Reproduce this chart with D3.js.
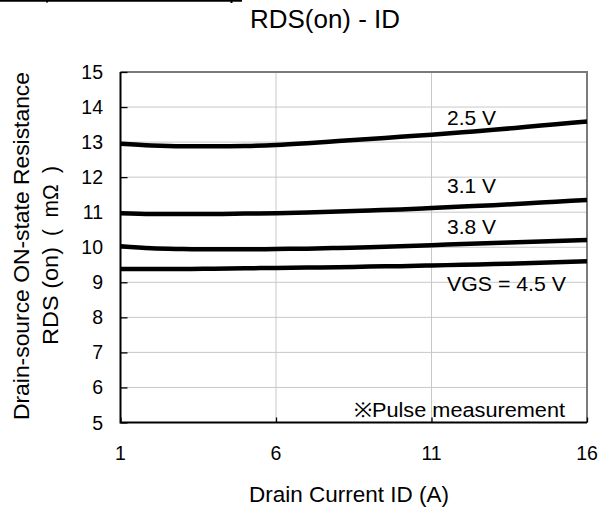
<!DOCTYPE html>
<html>
<head>
<meta charset="utf-8">
<script src="https://cdn.jsdelivr.net/npm/d3@7"></script>
<style>
  html, body { margin: 0; padding: 0; background: #fff; }
  svg { display: block; font-family: "Liberation Sans", Arial, Helvetica, sans-serif; }
  text { white-space: pre; }
</style>
</head>
<body>
<svg id="chart" width="608" height="513"></svg>
<script>
// ---- data ----
const currents = [1, 2, 3, 4, 5, 6, 7, 8, 9, 10, 11, 12, 13, 14, 15, 16];
const r_25 = [12.95, 12.9, 12.88, 12.88, 12.89, 12.92, 12.97, 13.03, 13.09, 13.15, 13.21, 13.28, 13.35, 13.43, 13.51, 13.59];
const r_31 = [10.97, 10.95, 10.95, 10.95, 10.96, 10.97, 10.99, 11.02, 11.05, 11.08, 11.12, 11.16, 11.2, 11.25, 11.3, 11.35];
const r_38 = [10.03, 9.97, 9.95, 9.94, 9.94, 9.95, 9.96, 9.98, 10.0, 10.03, 10.06, 10.09, 10.12, 10.15, 10.18, 10.21];
const r_45 = [9.38, 9.38, 9.38, 9.39, 9.4, 9.41, 9.42, 9.43, 9.45, 9.46, 9.48, 9.5, 9.52, 9.54, 9.57, 9.6];
const seriesNames = ["2.5 V", "3.1 V", "3.8 V", "VGS = 4.5 V"];
const xTicks = [1, 6, 11, 16];
const yTicks = [5, 6, 7, 8, 9, 10, 11, 12, 13, 14, 15];
const titleText = "RDS(on) - ID";
const xTitle = "Drain Current ID (A)";
const yTitle1 = "Drain-source ON-state Resistance";
const yTitle2a = "RDS (on)";
const yTitle2b = "(  mΩ  )";
const noteText = "※Pulse measurement";

// ---- layout ----
const svg = d3.select("#chart");
const L = 120.5, R = 587, T = 72, B = 422.5;
const x = d3.scaleLinear().domain([1, 16]).range([L, R]);
const y = d3.scaleLinear().domain([5, 15]).range([B, T]);

function fitText(sel, len) {
  return sel.attr("textLength", len).attr("lengthAdjust", "spacingAndGlyphs");
}

// clipped remnant line at top
svg.append("line").attr("x1", 0).attr("x2", 242).attr("y1", 0.8).attr("y2", 0.8)
  .attr("stroke", "#000").attr("stroke-width", 1.8);
svg.append("rect").attr("x", 46).attr("y", 1).attr("width", 2).attr("height", 1.5).attr("fill", "#000");
svg.append("rect").attr("x", 230.5).attr("y", 1).attr("width", 2).attr("height", 2).attr("fill", "#000");

// gridlines
const grid = svg.append("g");
grid.selectAll("line.h").data(yTicks.filter(v => v > 5 && v < 15)).join("line")
  .attr("x1", L).attr("x2", R).attr("y1", d => y(d)).attr("y2", d => y(d))
  .attr("stroke", "#c8c8c8").attr("stroke-width", 1);
grid.selectAll("line.v").data(xTicks.filter(v => v > 1 && v < 16)).join("line")
  .attr("x1", d => x(d)).attr("x2", d => x(d)).attr("y1", T).attr("y2", B)
  .attr("stroke", "#c8c8c8").attr("stroke-width", 1);

// top/right border (gray)
svg.append("path").attr("d", `M${L},${T}H${R}V${B}`).attr("fill", "none")
  .attr("stroke", "#7a7a7a").attr("stroke-width", 2);

// axes via d3
const yAxis = d3.axisRight(y).tickValues(yTicks).tickSize(7).tickFormat("");
const gy = svg.append("g").attr("transform", `translate(${L},0)`).call(yAxis);
gy.select(".domain").remove();
gy.selectAll(".tick line").attr("stroke", "#000").attr("stroke-width", 1.3);

const xAxis = d3.axisTop(x).tickValues(xTicks).tickSize(5).tickFormat("");
const gx = svg.append("g").attr("transform", `translate(0,${B})`).call(xAxis);
gx.select(".domain").remove();
gx.selectAll(".tick line").attr("stroke", "#000").attr("stroke-width", 1.3);

svg.append("path").attr("d", `M${L},${T}V${B}H${R}`).attr("fill", "none")
  .attr("stroke", "#000").attr("stroke-width", 2);

// tick labels
svg.append("g").selectAll("text").data(yTicks).join("text")
  .attr("x", 103).attr("y", d => y(d) + 7).attr("text-anchor", "end")
  .attr("font-size", 19.5).attr("fill", "#000").text(d => d);
svg.append("g").selectAll("text").data(xTicks).join("text")
  .attr("x", d => x(d)).attr("y", 459.5).attr("text-anchor", "middle")
  .attr("font-size", 19.5).attr("fill", "#000").text(d => d);

// curves
const allSeries = [r_25, r_31, r_38, r_45];
const line = d3.line().x((d, i) => x(currents[i])).y(d => y(d)).curve(d3.curveMonotoneX);
svg.append("g").selectAll("path").data(allSeries).join("path")
  .attr("d", d => line(d)).attr("fill", "none").attr("stroke", "#000")
  .attr("stroke-width", 4.5).attr("stroke-linecap", "butt");

// series labels
const labelY = [125, 192.5, 234, 290.5];
const labelW = [49, 49, 49, 119];
svg.append("g").selectAll("text").data(seriesNames).join("text")
  .attr("x", 447).attr("y", (d, i) => labelY[i])
  .attr("font-size", 20.8).attr("fill", "#000")
  .attr("textLength", (d, i) => labelW[i]).attr("lengthAdjust", "spacingAndGlyphs")
  .text(d => d);

// note
fitText(svg.append("text").attr("x", 354).attr("y", 417).attr("font-size", 20.5)
  .attr("fill", "#000").text(noteText), 211);

// titles
fitText(svg.append("text").attr("x", 250).attr("y", 28.3).attr("font-size", 25.5)
  .attr("fill", "#000").text(titleText), 150);
fitText(svg.append("text").attr("x", 249).attr("y", 502)
  .attr("font-size", 22.3).attr("fill", "#000").text(xTitle), 200);
fitText(svg.append("text").attr("transform", "translate(29,420) rotate(-90)")
  .attr("font-size", 22.5).attr("fill", "#000").text(yTitle1), 348);
fitText(svg.append("text").attr("transform", "translate(58,345) rotate(-90)")
  .attr("font-size", 22.5).attr("fill", "#000").text(yTitle2a), 98);
fitText(svg.append("text").attr("transform", "translate(58,236) rotate(-90)")
  .attr("font-size", 22.5).attr("fill", "#000").text(yTitle2b), 70);
</script>
</body>
</html>
